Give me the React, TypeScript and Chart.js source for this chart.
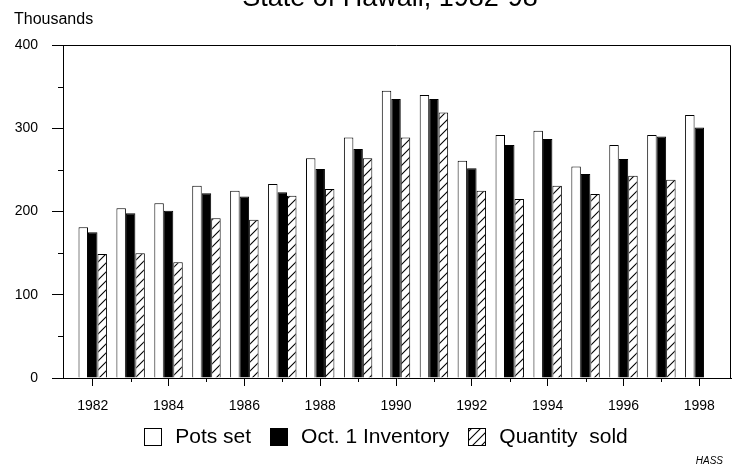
import React, { useEffect, useRef } from 'react';
import { Chart, registerables } from 'chart.js';

Chart.register(...registerables);

const FONT = '"Liberation Sans", Arial, Helvetica, sans-serif';

const chartTitle = 'State of Hawaii, 1982-98';
const unitLabel = 'Thousands';
const sourceLabel = 'HASS';

const years = [1982, 1983, 1984, 1985, 1986, 1987, 1988, 1989, 1990, 1991, 1992, 1993, 1994, 1995, 1996, 1997, 1998];
const potsSet = [181, 204, 210, 231, 225, 233, 264, 289, 345, 340, 261, 292, 297, 254, 280, 292, 316];
const oct1Inventory = [175, 198, 201, 222, 218, 223, 251, 275, 335, 335, 252, 280, 287, 245, 263, 290, 301];
const quantitySold = [149, 150, 139, 192, 190, 219, 227, 264, 289, 319, 225, 215, 231, 221, 243, 238, null];
const seriesNames = ['Pots set', 'Oct. 1 Inventory', 'Quantity  sold'];
const yMajorStep = 100;
const yMinorStep = 50;
const yMin = 0;
const yMax = 400;
const xMin = 1981.216;
const xMax = 1998.836;

function makeHatch(): CanvasPattern | string {
  const c = document.createElement('canvas');
  const s = 9;
  c.width = s;
  c.height = s;
  const g = c.getContext('2d');
  if (!g) return '#fff';
  g.fillStyle = '#fff';
  g.fillRect(0, 0, s, s);
  g.strokeStyle = '#000';
  g.lineWidth = 1.1;
  g.beginPath();
  g.moveTo(0, s);
  g.lineTo(s, 0);
  g.moveTo(-1, 1);
  g.lineTo(1, -1);
  g.moveTo(s - 1, s + 1);
  g.lineTo(s + 1, s - 1);
  g.stroke();
  return g.createPattern(c, 'repeat') || '#fff';
}

const decorPlugin = {
  id: 'decor',
  afterDraw(chart: any) {
    const { ctx, chartArea: a, scales } = chart;
    ctx.save();
    ctx.strokeStyle = '#000';
    ctx.lineWidth = 1;
    // frame: top and right sides
    const top = Math.round(a.top) + 0.5;
    const right = Math.round(a.right) - 0.5;
    ctx.beginPath();
    ctx.moveTo(a.left, top);
    ctx.lineTo(right, top);
    ctx.lineTo(right, a.bottom);
    ctx.stroke();
    // short minor ticks on y
    scales.y.ticks.forEach((t: any) => {
      if (t.value % yMajorStep !== 0) {
        const y = Math.round(scales.y.getPixelForValue(t.value)) + 0.5;
        ctx.beginPath();
        ctx.moveTo(a.left - 5, y);
        ctx.lineTo(a.left, y);
        ctx.stroke();
      }
    });
    // short minor ticks on x
    scales.x.ticks.forEach((t: any) => {
      if (t.value % 2 !== 0) {
        const x = Math.round(scales.x.getPixelForValue(t.value)) + 0.5;
        ctx.beginPath();
        ctx.moveTo(x, a.bottom);
        ctx.lineTo(x, a.bottom + 4);
        ctx.stroke();
      }
    });
    // title, partly cut off at the top edge
    ctx.fillStyle = '#000';
    ctx.font = `27px ${FONT}`;
    ctx.textAlign = 'center';
    ctx.textBaseline = 'alphabetic';
    ctx.fillText(chartTitle, (a.left + a.right) / 2 - 7, a.top - 39);
    // unit label
    ctx.font = `16px ${FONT}`;
    ctx.textAlign = 'left';
    ctx.fillText(unitLabel, 14, a.top - 21);
    // legend
    const items = chart.data.datasets.map((d: any) => ({ label: d.label, fill: d.backgroundColor }));
    ctx.font = `21px ${FONT}`;
    const box = 17;
    const gapBT = 14;
    const gapItem = 19;
    const widths = items.map((it: any) => ctx.measureText(it.label).width);
    let total = gapItem * (items.length - 1);
    widths.forEach((w: number) => (total += box + gapBT + w));
    let x = (a.left + a.right) / 2 - 11 - total / 2;
    const cy = a.bottom + 58;
    items.forEach((it: any, i: number) => {
      const bx = Math.round(x) + 0.5;
      const by = Math.round(cy - box / 2) + 0.5;
      ctx.fillStyle = it.fill;
      ctx.fillRect(bx, by, box, box);
      ctx.strokeStyle = '#000';
      ctx.strokeRect(bx, by, box, box);
      ctx.fillStyle = '#000';
      ctx.textBaseline = 'middle';
      ctx.textAlign = 'left';
      ctx.fillText(it.label, x + box + gapBT, cy + 1);
      x += box + gapBT + widths[i] + gapItem;
    });
    // source note
    ctx.font = `italic 10px ${FONT}`;
    ctx.textAlign = 'right';
    ctx.textBaseline = 'alphabetic';
    ctx.fillText(sourceLabel, chart.width - 11, chart.height - 4);
    ctx.restore();
  },
};

export default function App() {
  const ref = useRef<HTMLCanvasElement | null>(null);

  useEffect(() => {
    if (!ref.current) return;
    const hatch = makeHatch();
    const toPoints = (vals: (number | null)[]) => years.map((yr, i) => ({ x: yr, y: vals[i] }));
    const chart = new Chart(ref.current, {
      type: 'bar',
      data: {
        datasets: [
          { label: seriesNames[0], data: toPoints(potsSet) as any, backgroundColor: '#fff', borderColor: '#000', borderWidth: 1 },
          { label: seriesNames[1], data: toPoints(oct1Inventory) as any, backgroundColor: '#000', borderColor: '#000', borderWidth: 1 },
          { label: seriesNames[2], data: toPoints(quantitySold) as any, backgroundColor: hatch as any, borderColor: '#000', borderWidth: 1 },
        ],
      },
      options: {
        animation: false,
        responsive: true,
        maintainAspectRatio: false,
        layout: { padding: { left: 15, right: 3, top: 45, bottom: 55 } },
        datasets: { bar: { categoryPercentage: 0.75, barPercentage: 1 } } as any,
        plugins: {
          legend: { display: false },
          title: { display: false },
          tooltip: { enabled: false },
        },
        scales: {
          x: {
            type: 'linear',
            min: xMin,
            max: xMax,
            offset: false,
            afterBuildTicks: (s: any) => {
              s.ticks = years.map((v) => ({ value: v }));
            },
            afterFit: (s: any) => {
              s.height = 35;
            },
            ticks: {
              autoSkip: false,
              maxRotation: 0,
              padding: 12,
              color: '#000',
              font: { family: FONT, size: 14 },
              callback: (v: any) => (Number(v) % 2 === 0 ? String(v) : ''),
            },
            grid: {
              drawOnChartArea: false,
              drawTicks: true,
              tickLength: 8,
              offset: false,
              tickColor: (c: any) => (c.tick && c.tick.value % 2 === 0 ? '#000' : 'rgba(0,0,0,0)'),
            },
            border: { color: '#000', width: 1 },
          } as any,
          y: {
            min: yMin,
            max: yMax,
            afterFit: (s: any) => {
              s.width = 48;
            },
            ticks: {
              stepSize: yMinorStep,
              padding: 14,
              color: '#000',
              font: { family: FONT, size: 14 },
              callback: (v: any) => (Number(v) % yMajorStep === 0 ? String(v) : ''),
            },
            grid: {
              drawOnChartArea: false,
              drawTicks: true,
              tickLength: 11,
              tickColor: (c: any) => (c.tick && c.tick.value % yMajorStep === 0 ? '#000' : 'rgba(0,0,0,0)'),
            },
            border: { color: '#000', width: 1 },
          } as any,
        },
      },
      plugins: [decorPlugin],
    });
    return () => chart.destroy();
  }, []);

  return (
    <div style={{ position: 'absolute', left: 0, top: 0, width: 734, height: 468, background: '#fff' }}>
      <canvas ref={ref} />
    </div>
  );
}
